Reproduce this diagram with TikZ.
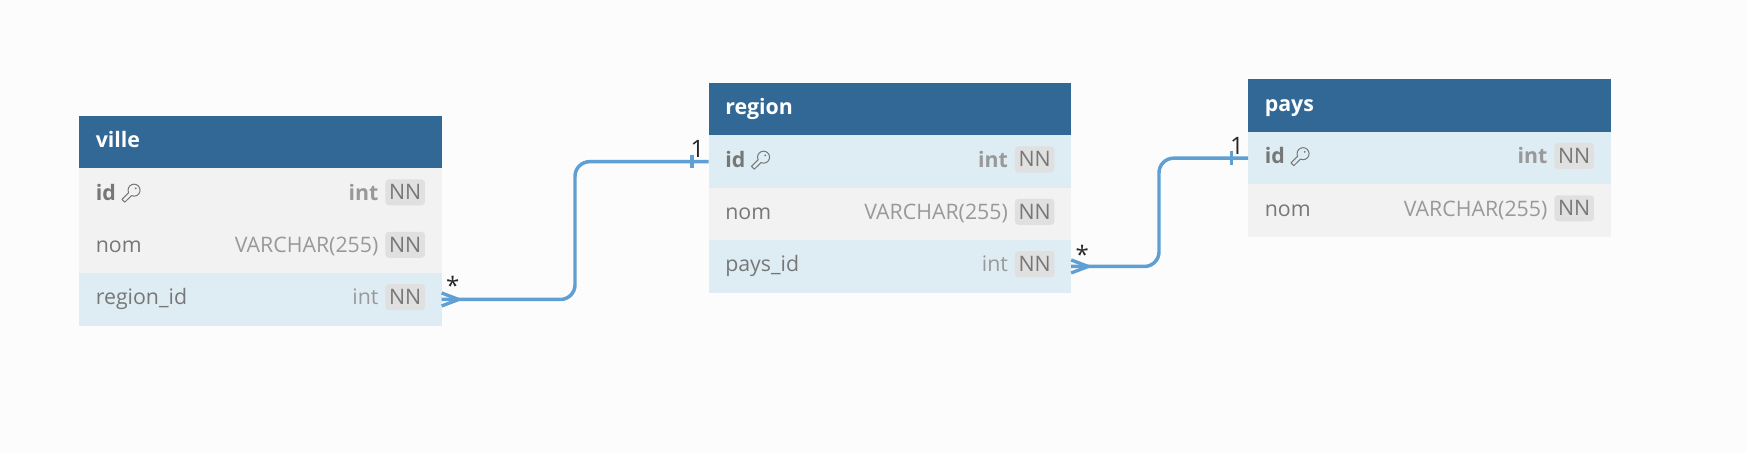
\documentclass[tikz,border=0pt]{standalone}
\usepackage{fontspec}
\setmainfont{Open Sans}
\usetikzlibrary{calc}
\definecolor{pagebg}{HTML}{FCFCFC}
\definecolor{headblue}{HTML}{316896}
\definecolor{rowblue}{HTML}{DEECF4}
\definecolor{rowgray}{HTML}{F2F2F2}
\definecolor{badge}{HTML}{E0E0E0}
\definecolor{linkblue}{HTML}{5F9FD3}
\definecolor{typegray}{HTML}{999999}
\definecolor{namegray}{HTML}{777777}
\tikzset{
  x=0.75pt,y=-0.75pt,
  headbox/.style={fill=headblue,minimum width=272pt,minimum height=39.4pt,inner sep=0pt,outer sep=0pt,anchor=north west},
  rowbox/.style={minimum width=272pt,minimum height=39.4pt,inner sep=0pt,outer sep=0pt,anchor=north west},
  headtext/.style={anchor=base west,inner sep=0pt,text=white,font=\fontsize{16}{18}\selectfont\bfseries},
  nametext/.style={anchor=base west,inner sep=0pt,text=namegray,font=\fontsize{16}{18}\selectfont},
  typetext/.style={anchor=base east,inner sep=0pt,text=typegray,font=\fontsize{16}{18}\selectfont},
  nnbadge/.style={fill=badge,rounded corners=2.5pt,minimum width=29.6pt,minimum height=19.5pt,inner sep=0pt,text=namegray,font=\fontsize{16}{18}\selectfont},
  link/.style={draw=linkblue,line width=2.6pt,rounded corners=11pt},
  linkmark/.style={draw=linkblue,line width=2.5pt},
  cardlabel/.style={anchor=base,inner sep=0pt,text=black!85,font=\fontsize{18}{20}\selectfont},
  keyicon/.pic={
    \draw[namegray,line width=0.75pt,line join=round,rotate=-135]
      (5.6,2) arc[start angle=20,end angle=340,radius=6] -- (13,-2) -- (15,-2) -- (15,2) -- cycle;
    \fill[namegray] (1.8,-1.8) circle[radius=1];
  }
}
\newcommand{\tblhead}[4]{%
  \node[headbox] (#1) at (#2,#3) {};
  \node[headtext] (#1-title) at ($(#1.west)+(16.5,5.5)$) {#4};
}
\newcommand{\tblrow}[8]{%
  \node[rowbox,fill=#4] (#1) at (#2,#3) {};
  \node[nametext] (#1-name) at ($(#1.west)+(16.5,5.5)$) {#7#5};
  \node[typetext] (#1-type) at ($(#1.east)+(-63,5.5)$) {#8#6};
  \node[nnbadge] (#1-nn) at ($(#1.east)+(-36.5,-2.3)$) {NN};
}
\begin{document}
\begin{tikzpicture}
\useasboundingbox (0,0) rectangle (1746,453);
\fill[pagebg] (0,0) rectangle (1746,453);

% ville
\tblhead{ville}{79}{116}{ville}
\tblrow{ville-id}{79}{168.4}{rowgray}{id}{int}{\bfseries}{\bfseries}
\tblrow{ville-nom}{79}{220.8}{rowgray}{nom}{VARCHAR(255)}{}{}
\tblrow{ville-region}{79}{273.2}{rowblue}{region\_id}{int}{}{}
\pic at ($(ville-id.west)+(55,-4.5)$) {keyicon};

% region
\tblhead{region}{708.5}{83}{region}
\tblrow{region-id}{708.5}{135.4}{rowblue}{id}{int}{\bfseries}{\bfseries}
\tblrow{region-nom}{708.5}{187.8}{rowgray}{nom}{VARCHAR(255)}{}{}
\tblrow{region-pays}{708.5}{240.2}{rowblue}{pays\_id}{int}{}{}
\pic at ($(region-id.west)+(55,-4.5)$) {keyicon};

% pays
\tblhead{pays}{1248}{79.5}{pays}
\tblrow{pays-id}{1248}{131.9}{rowblue}{id}{int}{\bfseries}{\bfseries}
\tblrow{pays-nom}{1248}{184.3}{rowgray}{nom}{VARCHAR(255)}{}{}
\pic at ($(pays-id.west)+(55,-4.5)$) {keyicon};

% connectors
\coordinate (bendA) at (575,0);
\coordinate (bendB) at (1159,0);
\draw[link] (ville-region.east) -- (ville-region.east -| bendA) -- (region-id.west -| bendA) -- (region-id.west);
\draw[link] (region-pays.east) -- (region-pays.east -| bendB) -- (pays-id.west -| bendB) -- (pays-id.west);

% crow's feet
\draw[linkmark] ($(ville-region.east)+(0,-6.5)$) -- ($(ville-region.east)+(17,0)$) -- ($(ville-region.east)+(0,6.5)$);
\draw[linkmark] ($(region-pays.east)+(0,-6.5)$) -- ($(region-pays.east)+(17,0)$) -- ($(region-pays.east)+(0,6.5)$);

% one-ticks
\draw[linkmark] ($(region-id.west)+(-16.5,-6.7)$) -- ($(region-id.west)+(-16.5,6.7)$);
\draw[linkmark] ($(pays-id.west)+(-16.5,-6.7)$) -- ($(pays-id.west)+(-16.5,6.7)$);

% cardinalities
\node[cardlabel] (cardA) at ($(ville-region.east)+(11,-4.5)$) {*};
\node[cardlabel] (cardB) at ($(region-id.west)+(-11,-4)$) {1};
\node[cardlabel] (cardC) at ($(region-pays.east)+(11,-2.5)$) {*};
\node[cardlabel] (cardD) at ($(pays-id.west)+(-11,-4)$) {1};
\end{tikzpicture}
\end{document}
